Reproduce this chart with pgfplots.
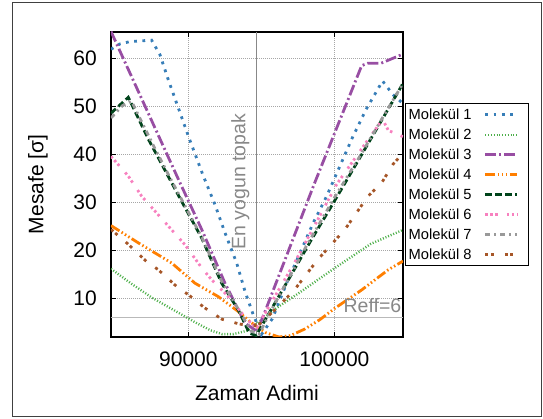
\documentclass[border=0pt]{standalone}
\usepackage{pgfplots}
\pgfplotsset{compat=1.18}
\usepackage{fontspec}
\setmainfont{Liberation Sans}

\definecolor{c1}{HTML}{377EB8}
\definecolor{c2}{HTML}{4DAF4A}
\definecolor{c3}{HTML}{984EA3}
\definecolor{c4}{HTML}{FF7F00}
\definecolor{c5}{HTML}{00441B}
\definecolor{c6}{HTML}{F781BF}
\definecolor{c7}{HTML}{999999}
\definecolor{c8}{HTML}{A65628}
\definecolor{annot}{HTML}{888888}

\begin{document}
\begin{tikzpicture}
\useasboundingbox (0pt,0pt) rectangle (543pt,419pt);
\draw[line width=1pt, black!75] (12.5pt,2.5pt) rectangle (541pt,416.5pt);
\begin{axis}[
    at={(111pt,82pt)}, anchor=south west,
    width=292pt, height=305pt, scale only axis,
    xmin=84700, xmax=104700,
    ymin=2, ymax=65.5,
    scaled x ticks=false,
    scaled y ticks=false,
    xtick={90000,100000},
    xticklabels={90000,100000},
    ytick={10,20,30,40,50,60},
    yticklabels={10,20,30,40,50,60},
    tick align=inside,
    major tick length=5pt,
    tick style={line width=0.8pt, black},
    axis line style={line width=1.2pt},
    grid=major,
    grid style={line width=0.6pt, draw=gray!70, dash pattern=on 0.8pt off 1.2pt},
    tick label style={font=\fontsize{21}{25}\selectfont},
    xticklabel style={anchor=base, yshift=-30pt},
    yticklabel style={anchor=east, inner sep=0pt, xshift=-14pt},
    label style={font=\fontsize{21}{25}\selectfont},
    xlabel={Zaman Adimi},
    ylabel={Mesafe [σ]},
    xlabel style={at={(axis description cs:0.5,-0.207)}, anchor=base},
    ylabel style={at={(axis description cs:-0.25,0.5)}, anchor=center, rotate=0},
    legend plot pos=right,
    legend cell align=left,
    legend image code/.code={\draw[#1] (0pt,0pt) -- (32pt,0pt); \path (41pt,0pt);},
    legend style={at={(axis description cs:1.007,0.766)}, anchor=north west,
        draw=black, line width=0.9pt, inner sep=1pt, row sep=0pt, column sep=10pt,
        font=\fontsize{14.7}{17}\selectfont,
        nodes={inner sep=2.25pt, text height=12.5pt, text depth=3pt}},
]
% reference lines
\addplot[forget plot, color=annot, line width=0.9pt] coordinates {(94665,2) (94665,65.5)};
\addplot[forget plot, color=gray!55, line width=1.4pt] coordinates {(84700,6) (104700,6)};

% Molekul 1
\addplot[c1, line width=2.8pt, dash pattern=on 2.8pt off 5.5pt] coordinates {
(84700,61.9) (85300,63.0) (86000,63.5) (87480,63.8) (88050,60.8) (88620,55.6)
(90000,43.8) (91000,35.7) (91815,29.6) (92507,23.7) (93307,17.4) (93900,11.3)
(94400,7) (95000,2.5) (95750,5.8) (96717,13.1) (97630,19.4) (98542,25.7)
(99454,31.2) (100366,37.5) (101278,43.8) (102174,49.4) (103300,55.3)
(104000,52.5) (104700,50.6)};
\addlegendentry{Molekül 1}
% Molekul 2
\addplot[c2, line width=2.4pt, dash pattern=on 1pt off 1.8pt] coordinates {
(84700,16.2) (86000,13.3) (87500,10.2) (89000,7.6) (90500,5) (91500,3.4)
(92300,2.6) (93100,2.6) (94000,3.3) (94700,4.8) (95300,6.3) (96164,8.3)
(97500,11) (100000,16.3) (102500,21.4) (104700,24.3)};
\addlegendentry{Molekül 2}
% Molekul 3
\addplot[c3, line width=2.8pt, dash pattern=on 11pt off 3pt on 2pt off 3pt] coordinates {
(84700,65.6) (89426,34.1) (90912,24.4) (92507,13.2) (93877,4.9) (94700,3.2)
(95250,7.3) (98600,33.7) (101871,58.5) (102300,59.0) (103200,59.0) (104700,60.9)};
\addlegendentry{Molekül 3}
% Molekul 4
\addplot[c4, line width=2.8pt, dash pattern=on 10pt off 2.5pt on 1.5pt off 2.5pt on 1.5pt off 2.5pt on 1.5pt off 2.5pt] coordinates {
(84700,25.2) (86570,21.6) (88857,17.4) (90453,13.2) (92050,10.4) (93421,7.3)
(94300,5.0) (95300,2.9) (96200,2.0) (97000,2.3) (98000,3.7) (99000,5.6)
(100042,8.0) (101871,11.8) (103693,16.0) (104700,17.8)};
\addlegendentry{Molekül 4}
% Molekul 5
\addplot[c5, line width=2.8pt, dash pattern=on 6.5pt off 3.5pt] coordinates {
(84700,48.6) (85885,51.9) (87255,43.2) (88857,34.1) (89652,29.6) (90912,22.6)
(92281,13.2) (93421,7.6) (94178,2.8) (94640,2.3) (96164,10.3) (98452,22.4)
(99927,29.9) (101740,39.3) (103693,49.5) (104700,54.8)};
\addlegendentry{Molekül 5}
% Molekul 6
\addplot[c6, line width=2.8pt, dash pattern=on 2.5pt off 2.5pt on 2.5pt off 2.5pt on 2.5pt off 9pt] coordinates {
(84700,39.6) (85885,35.5) (86803,31.3) (87714,28.2) (88741,24.7) (89768,21.2)
(90912,16.4) (91596,13.9) (92623,10.8) (93650,7) (94300,4.8) (94700,4)
(95590,8.7) (97260,17.4) (98858,26.4) (100160,33.8) (102334,43.2)
(103300,47.3) (103700,45) (104700,43.7)};
\addlegendentry{Molekül 6}
% Molekul 7
\addplot[c7, line width=2.8pt, dash pattern=on 5pt off 4pt on 2pt off 4pt] coordinates {
(84700,47.6) (85500,50.2) (86100,51.1) (87714,41.2) (88857,34.5) (90912,22.8)
(92281,13.6) (93421,7.8) (94300,3.2) (94850,2.6) (95500,6.6) (98000,20.5)
(100000,31.0) (101740,39.6) (103466,48.5) (104700,54.8)};
\addlegendentry{Molekül 7}
% Molekul 8
\addplot[c8, line width=2.8pt, dash pattern=on 3pt off 2.5pt on 3pt off 11pt] coordinates {
(84700,24.4) (85771,21.6) (87140,17.7) (87940,16) (89200,12.5) (90000,10.8)
(91100,8.1) (92300,5.7) (93500,4.7) (94300,4.3) (94800,4.5) (95300,5.9)
(96049,8) (97260,11.8) (98858,18.1) (100726,24.4) (102300,31.3) (103240,34.1)
(104000,37.9) (104700,40.3)};
\addlegendentry{Molekül 8}

\node[xshift=-11pt, rotate=90, anchor=base west, inner sep=0pt, text=annot,
      font=\fontsize{19.5}{23}\selectfont] at (axis cs:94665,20.2) {En yogun topak};
\node[anchor=base east, inner sep=0pt, xshift=-1.5pt, text=annot,
      font=\fontsize{19.5}{23}\selectfont] at (axis cs:104700,7.16) {Reff=6};
\end{axis}
\end{tikzpicture}
\end{document}
